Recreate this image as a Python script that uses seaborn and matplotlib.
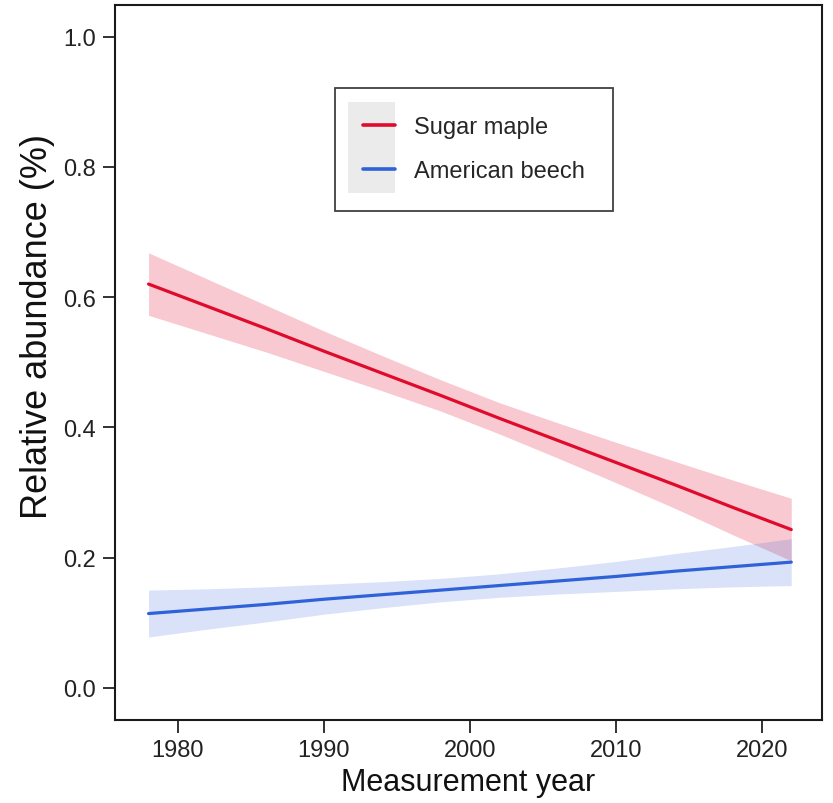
import matplotlib
matplotlib.use("Agg")
import matplotlib.pyplot as plt
from matplotlib.lines import Line2D
from matplotlib.patches import Rectangle
import numpy as np
import pandas as pd
import seaborn as sns

# ---- data ----
years = [1978, 1982, 1986, 1990, 1994, 1998, 2002, 2006, 2010, 2014, 2018, 2022]

maple_fit = [0.620, 0.586, 0.552, 0.517, 0.483, 0.449, 0.414, 0.380, 0.346, 0.312, 0.277, 0.243]
maple_lo = [0.572, 0.544, 0.516, 0.486, 0.456, 0.425, 0.390, 0.353, 0.315, 0.276, 0.235, 0.195]
maple_hi = [0.668, 0.628, 0.588, 0.548, 0.510, 0.473, 0.438, 0.407, 0.377, 0.348, 0.319, 0.291]

beech_fit = [0.114, 0.121, 0.128, 0.136, 0.143, 0.150, 0.157, 0.164, 0.171, 0.179, 0.186, 0.193]
beech_lo = [0.078, 0.090, 0.101, 0.113, 0.123, 0.132, 0.139, 0.144, 0.148, 0.152, 0.155, 0.157]
beech_hi = [0.150, 0.152, 0.155, 0.159, 0.163, 0.168, 0.175, 0.184, 0.194, 0.206, 0.217, 0.229]

species = ["Sugar maple", "American beech"]
line_colors = ["#E00A2D", "#2F62D9"]
band_alpha = [0.22, 0.18]

x_ticks = [1980, 1990, 2000, 2010, 2020]
y_ticks = [0.0, 0.2, 0.4, 0.6, 0.8, 1.0]
x_label = "Measurement year"
y_label = "Relative abundance (%)"

# ---- build tidy table ----
df = pd.concat([
    pd.DataFrame({"year": years, "fit": maple_fit, "lo": maple_lo, "hi": maple_hi, "species": species[0]}),
    pd.DataFrame({"year": years, "fit": beech_fit, "lo": beech_lo, "hi": beech_hi, "species": species[1]}),
], ignore_index=True)

sns.set_style("ticks")
plt.rcParams["font.family"] = ["Liberation Sans Narrow", "Liberation Sans", "DejaVu Sans"]

fig = plt.figure(figsize=(8.33, 8.04), dpi=100)
ax = fig.add_axes([0.138, 0.1036, 0.8487, 0.8893])

palette = dict(zip(species, line_colors))
for sp, a in zip(species, band_alpha):
    sub = df[df["species"] == sp]
    ax.fill_between(sub["year"], sub["lo"], sub["hi"], color=palette[sp], alpha=a, linewidth=0, zorder=1)

sns.lineplot(data=df, x="year", y="fit", hue="species", palette=palette,
             linewidth=2.3, ax=ax, legend=False, zorder=3)

ax.set_xlim(1975.7, 2024.1)
ax.set_ylim(-0.049, 1.049)
ax.set_xticks(x_ticks)
ax.set_xticklabels([str(t) for t in x_ticks])
ax.set_yticks(y_ticks)
ax.set_yticklabels([f"{t:.1f}" for t in y_ticks])
ax.set_xlabel(x_label, fontsize=22, color="#111111", labelpad=4)
ax.set_ylabel(y_label, fontsize=26, color="#111111")
ax.yaxis.set_label_coords(-0.085, 0.552)

ax.tick_params(axis="both", direction="out", length=9, width=1.3, color="#222222",
               labelsize=17, labelcolor="#222222", pad=5)
for s in ax.spines.values():
    s.set_visible(True)
    s.set_linewidth(1.5)
    s.set_color("#1a1a1a")

# legend with grey key background
handles = [Line2D([0], [0], color=c, lw=2.6) for c in line_colors]
leg = ax.legend(handles, species, loc="upper left", bbox_to_anchor=(0.311, 0.884),
                frameon=True, fancybox=False, fontsize=17, handlelength=1.35,
                handletextpad=0.8, borderpad=1.2, labelspacing=0.95, borderaxespad=0)
leg.get_frame().set_edgecolor("#111111")
leg.get_frame().set_linewidth(1.3)
leg.get_frame().set_facecolor("none")
ax.add_patch(Rectangle((0.3296, 0.7366), 0.0664, 0.1274, transform=ax.transAxes,
                       facecolor="#EBEBEB", edgecolor="none", zorder=4))

fig.savefig("out.png", dpi=100)
